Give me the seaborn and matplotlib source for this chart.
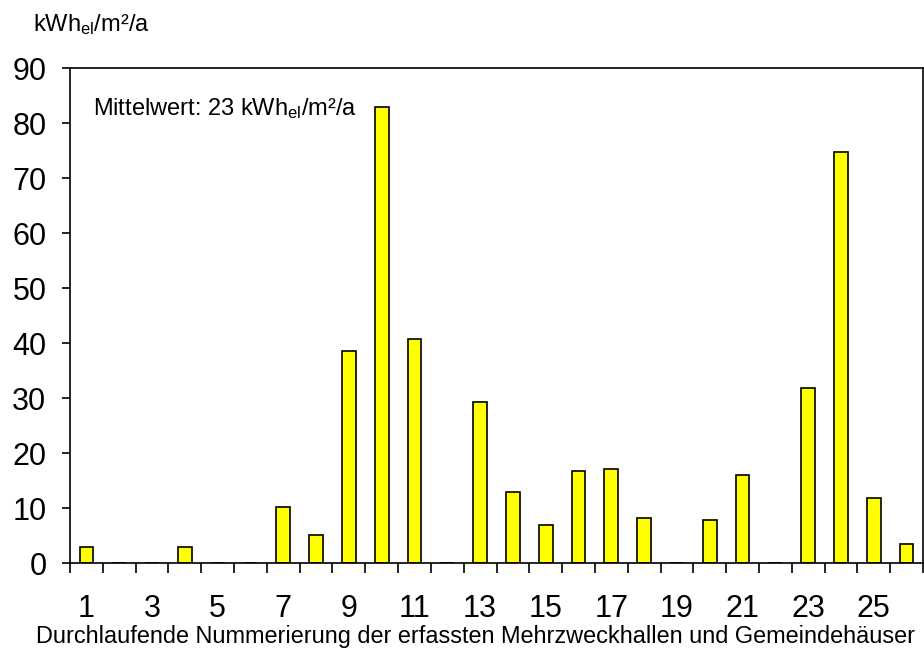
import matplotlib
matplotlib.use("Agg")
import matplotlib.pyplot as plt
import seaborn as sns
import numpy as np
import pandas as pd

# building number and specific electricity use (kWh_el/m²/a), 0 = no data
nummer = list(range(1, 27))
verbrauch = [3.0, 0, 0, 3.0, 0, 0, 10.2, 5.1, 38.6, 82.9, 40.8, 0, 29.3,
             13.0, 7.0, 16.8, 17.1, 8.2, 0, 7.8, 16.0, 0, 31.8, 74.8, 11.9, 3.5]
y_ticks = list(range(0, 100, 10))
x_labels = [str(n) for n in range(1, 26, 2)]

sns.set_style("white")
plt.rcParams['font.family'] = ['Liberation Sans', 'DejaVu Sans']
plt.rcParams['mathtext.fontset'] = 'custom'
plt.rcParams['mathtext.rm'] = 'Liberation Sans'
plt.rcParams['mathtext.it'] = 'Liberation Sans'
for k in ['text.color', 'axes.labelcolor', 'xtick.color', 'ytick.color']:
    plt.rcParams[k] = 'black'

df = pd.DataFrame({'nr': nummer, 'wert': verbrauch})

fig = plt.figure(figsize=(9.24, 6.62), dpi=100)
ax = fig.add_axes([0.0758, 0.1495, 0.9231, 0.7477])

sns.barplot(data=df, x='nr', y='wert', order=nummer, color='#ffff00',
            saturation=1, edgecolor='black', linewidth=1.2, width=0.42, ax=ax)

ax.set_xlim(-0.5, len(nummer) - 0.5)
ax.set_ylim(0, 90)
ax.set_yticks(y_ticks)
ax.tick_params(axis='y', direction='out', length=6, width=1.2, pad=11,
               labelsize=22, left=True)

# labels at every second bar, tick marks at category boundaries
ax.set_xticks(range(0, 25, 2))
ax.set_xticklabels(x_labels)
ax.set_xticks(np.arange(-0.5, len(nummer)), minor=True)
ax.tick_params(axis='x', which='major', length=0, pad=22, labelsize=22)
ax.tick_params(axis='x', which='minor', direction='out', length=7, width=1.2,
               bottom=True)

for s in ax.spines.values():
    s.set_color('black')
    s.set_linewidth(1.2)

ax.set_xlabel('')
ax.set_ylabel('')
fig.text(0.515, 0.039,
         'Durchlaufende Nummerierung der erfassten Mehrzweckhallen und Gemeindehäuser',
         fontsize=16.9, ha='center', va='center')

ax.text(0.027, 0.943, 'Mittelwert: 23 kWh$_{\\mathrm{el}}$/m²/a', transform=ax.transAxes,
        fontsize=17, va='top', ha='left')
fig.text(0.036, 0.963, 'kWh$_{\\mathrm{el}}$/m²/a', fontsize=17, va='center', ha='left')

fig.savefig('out.png', dpi=100)
